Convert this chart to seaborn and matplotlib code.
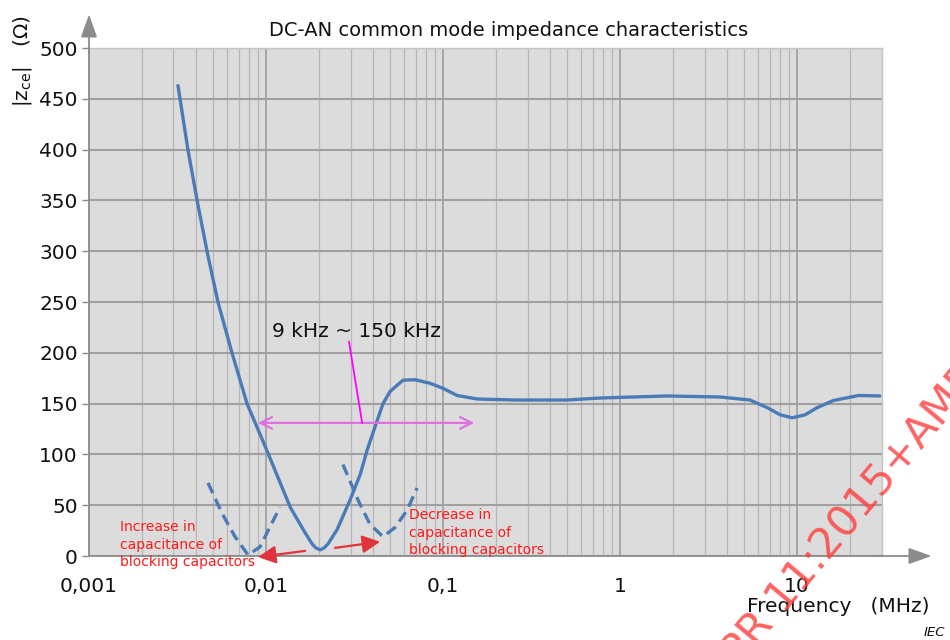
import matplotlib
matplotlib.use("Agg")
import matplotlib.pyplot as plt
from matplotlib.ticker import LogLocator, NullFormatter
import pandas as pd
import seaborn as sns

# ---------------------------------------------------------------------------
# Data (frequency in MHz, |Zce| in ohm)
# ---------------------------------------------------------------------------
main_freq = [0.00318, 0.00362, 0.00408, 0.00464, 0.00535, 0.00642, 0.00781,
             0.0101, 0.0137, 0.0166, 0.0182, 0.0191, 0.0202, 0.0213, 0.0224,
             0.0252, 0.0298, 0.0340, 0.0372, 0.0418, 0.0458, 0.0502, 0.0550,
             0.0594, 0.0695, 0.0845, 0.100, 0.120, 0.156, 0.262, 0.50, 0.77,
             1.84, 3.66, 5.42, 6.78, 8.02, 9.37, 11.1, 12.97, 16.0, 22.3, 29.3]
main_imp = [463, 400, 350, 300, 250, 200, 150,
            104, 48, 23, 12, 8, 6, 8, 12,
            26, 55, 80, 104, 130, 150, 162, 168,
            173, 173.5, 170, 165, 158, 154.5, 153.5, 153.5, 155.5,
            157.5, 156.5, 153.5, 146, 139, 136, 139, 146, 153, 158, 157.5]

# more blocking capacitance -> resonance shifts down
incr_freq = [0.00470, 0.00564, 0.00668, 0.00791, 0.00925, 0.01054, 0.0120]
incr_imp = [72, 42, 19, 1, 9, 29, 48]

# less blocking capacitance -> resonance shifts up
decr_freq = [0.0272, 0.0331, 0.0387, 0.0458, 0.0535, 0.0626, 0.0713]
decr_imp = [90, 55, 31, 19, 28, 45, 67]

xtick_vals = [0.001, 0.01, 0.1, 1, 10]
xtick_labels = ["0,001", "0,01", "0,1", "1", "10"]
ytick_vals = list(range(0, 501, 50))

band_low, band_high = 0.009, 0.15   # 9 kHz ~ 150 kHz

curve_col = "#4a7bb7"
red = "#ff1a1a"
grey_axis = "#8c8c8c"

df_main = pd.DataFrame({"freq": main_freq, "imp": main_imp})
df_incr = pd.DataFrame({"freq": incr_freq, "imp": incr_imp})
df_decr = pd.DataFrame({"freq": decr_freq, "imp": decr_imp})

sns.set_style("white")
plt.rcParams["font.family"] = ["DejaVu Sans"]

fig = plt.figure(figsize=(9.5, 6.4), dpi=100)
ax = fig.add_axes([0.0937, 0.13125, 0.8343, 0.79375])
ax.set_facecolor("#dcdcdc")

sns.lineplot(data=df_main, x="freq", y="imp", ax=ax, color=curve_col,
             lw=2.4, sort=False, zorder=4)
for d in (df_incr, df_decr):
    sns.lineplot(data=d, x="freq", y="imp", ax=ax, color=curve_col, lw=2.4,
                 sort=False, zorder=4, dashes=False, linestyle=(0, (3.4, 1.9)),
                 clip_on=False)

ax.set_xscale("log")
ax.set_xlim(0.001, 30)
ax.set_ylim(0, 500)

ax.set_xticks(xtick_vals, labels=xtick_labels)
ax.xaxis.set_minor_locator(LogLocator(base=10, subs=range(2, 10)))
ax.xaxis.set_minor_formatter(NullFormatter())
ax.set_yticks(ytick_vals)

ax.tick_params(axis="x", which="both", length=0, pad=15, labelsize=14.5,
               labelcolor="#111111")
ax.tick_params(axis="y", length=5, width=1, color=grey_axis, pad=3,
               labelsize=14.5, labelcolor="#111111", left=True)

ax.grid(which="major", axis="x", color="#999999", lw=1.1)
ax.grid(which="minor", axis="x", color="#b6b6b6", lw=0.9)
ax.grid(which="major", axis="y", color="#a0a0a0", lw=1.5)
ax.set_axisbelow(True)

for s in ("top", "right"):
    ax.spines[s].set_color("#c4c4c4")
    ax.spines[s].set_linewidth(1.0)
for s in ("left", "bottom"):
    ax.spines[s].set_color(grey_axis)
    ax.spines[s].set_linewidth(1.3)

# axis arrows
ax.annotate("", xy=(0, 1.066), xytext=(0, 0.99), xycoords="axes fraction",
            arrowprops=dict(arrowstyle="-|>,head_length=0.7,head_width=0.25",
                            color=grey_axis, lw=1.3, mutation_scale=20,
                            shrinkA=0, shrinkB=0))
ax.annotate("", xy=(1.063, 0), xytext=(0.99, 0), xycoords="axes fraction",
            arrowprops=dict(arrowstyle="-|>,head_length=0.7,head_width=0.25",
                            color=grey_axis, lw=1.3, mutation_scale=20,
                            shrinkA=0, shrinkB=0))

ax.set_xlabel("")
ax.set_ylabel("")

# 9 kHz ~ 150 kHz band
ax.annotate("", xy=(band_high, 131), xytext=(band_low, 131),
            arrowprops=dict(arrowstyle="<->,head_length=0.6,head_width=0.3",
                            color="#e070e0", lw=1.6, mutation_scale=14,
                            shrinkA=0, shrinkB=0), zorder=5)
ax.plot([0.0294, 0.0349], [211, 131], color="#ff00ff", lw=1.3, zorder=5)
ax.text(0.0108, 216, "9 kHz ~ 150 kHz", fontsize=14.5, ha="left",
        va="baseline", color="#111111", zorder=6)

# capacitance shift arrows
ax.annotate("", xy=(0.0090, -1), xytext=(0.0166, 5),
            arrowprops=dict(arrowstyle="-|>,head_length=0.6,head_width=0.3",
                            color="#e0343c", lw=1.6, mutation_scale=18,
                            shrinkA=0, shrinkB=0), annotation_clip=False,
            zorder=6)
ax.annotate("", xy=(0.0441, 14), xytext=(0.0245, 8),
            arrowprops=dict(arrowstyle="-|>,head_length=0.6,head_width=0.3",
                            color="#e0343c", lw=1.6, mutation_scale=18,
                            shrinkA=0, shrinkB=0), annotation_clip=False,
            zorder=6)

ax.text(0.0015, 35, "Increase in\ncapacitance of\nblocking capacitors",
        color=red, fontsize=10, ha="left", va="top", linespacing=1.3,
        clip_on=False, zorder=7)
ax.text(0.0643, 47, "Decrease in\ncapacitance of\nblocking capacitors",
        color=red, fontsize=10, ha="left", va="top", linespacing=1.3,
        clip_on=False, zorder=7)

# titles / labels
fig.text(0.535, 0.953, "DC-AN common mode impedance characteristics",
         ha="center", va="center", fontsize=14, color="#111111")
fig.text(0.024, 0.905, r"|z$_{\mathregular{ce}}$|   ($\Omega$)", rotation=90,
         ha="center", va="center", fontsize=14.5, color="#111111")
fig.text(0.978, 0.052, "Frequency   (MHz)", ha="right", va="center",
         fontsize=14.5, color="#111111")
fig.text(0.995, 0.012, "IEC", ha="right", va="center", fontsize=9.5,
         style="italic", color="#111111")

# watermark (cut off by the figure edge, as in the source document)
fig.text(0.722, -0.116, "CISPR 11:2015+AMD1:2016", rotation=50,
         rotation_mode="anchor", ha="left", va="center", fontsize=31,
         color="#ff3b3b", alpha=0.8, zorder=10)

fig.savefig("out.png", dpi=100)
